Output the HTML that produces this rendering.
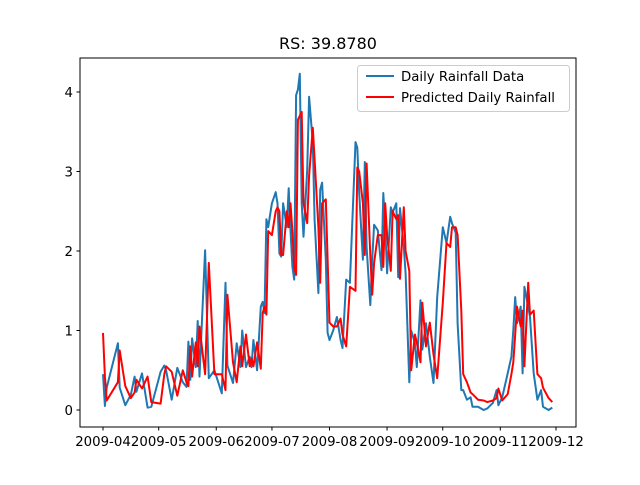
<!DOCTYPE html>
<html><head><meta charset="utf-8"><style>
body{margin:0;background:#fff}
svg text{font-family:"DejaVu Sans","Liberation Sans",sans-serif}
</style></head><body>
<svg id="chart" width="640" height="480" xmlns="http://www.w3.org/2000/svg">
<rect width="640" height="480" fill="#fff"/>
<text x="328" y="49" text-anchor="middle" font-size="16">RS: 39.8780</text>
<g id="plot"></g>
<rect x="80" y="58" width="496" height="369" fill="none" stroke="#000" stroke-width="1"/>
<g>
<rect x="357.5" y="65.5" width="212" height="46" rx="3" fill="#fff" fill-opacity="0.8" stroke="#ccc"/>
<line x1="366" y1="76" x2="394" y2="76" stroke="#1f77b4" stroke-width="2"/>
<text x="401" y="81" font-size="13.3">Daily Rainfall Data</text>
<line x1="366" y1="97" x2="394" y2="97" stroke="red" stroke-width="2"/>
<text x="401" y="102" font-size="13.3">Predicted Daily Rainfall</text>
</g>
</svg>
<script>
const days=[0,1,2,8,9,12,15,17,18,21,24,26,31,33,34,37,40,43,45,46,47,48,50,51,52,55,57,60,64,66,67,70,72,74,75,77,79,80,81,83,85,86,87,88,89,91,93,94,95,96,97,99,100,101,102,103,104,105,106,107,108,110,111,113,114,116,117,118,120,121,122,124,126,128,129,131,133,136,137,138,140,141,142,144,145,146,148,150,151,152,153,155,156,158,159,160,162,163,165,166,168,169,171,172,174,176,178,180,183,185,187,188,190,191,193,194,196,198,199,202,205,207,210,212,213,215,218,220,221,222,223,225,226,227,229,230,232,234,236,237,240,242];
const actual=[0.45,0.05,0.28,0.84,0.28,0.06,0.19,0.42,0.23,0.46,0.03,0.04,0.48,0.56,0.5,0.13,0.53,0.35,0.29,0.86,0.38,0.9,0.54,1.12,0.42,2.01,0.4,0.5,0.21,1.6,0.56,0.34,0.84,0.54,1.0,0.54,0.67,0.54,0.88,0.5,1.3,1.36,1.22,2.4,2.3,2.6,2.74,2.6,1.97,1.93,2.6,2.3,2.79,2.26,1.8,1.64,3.96,4.03,4.23,2.6,2.18,3.02,3.94,3.36,2.39,1.47,2.77,2.86,1.89,0.97,0.88,1.0,1.17,0.88,0.78,1.64,1.6,3.37,3.3,2.73,1.89,3.12,2.05,1.32,1.89,2.33,2.26,1.76,2.73,2.3,1.72,2.55,2.48,2.6,1.67,2.54,2.05,1.72,0.35,1.0,0.84,0.54,1.38,0.76,1.09,0.67,0.34,1.42,2.3,2.1,2.43,2.35,2.23,1.09,0.25,0.25,0.13,0.16,0.04,0.04,0.0,0.02,0.09,0.25,0.06,0.16,0.46,0.67,1.0,1.42,1.09,1.3,0.46,1.55,1.3,1.17,0.46,0.13,0.25,0.04,0.0,0.03];
const predicted=[0.97,0.42,0.12,0.35,0.75,0.3,0.15,0.22,0.38,0.27,0.42,0.1,0.08,0.45,0.55,0.48,0.18,0.5,0.35,0.3,0.8,0.42,0.85,0.55,1.05,0.45,1.85,0.45,0.45,0.25,1.45,0.6,0.35,0.8,0.55,0.95,0.55,0.65,0.55,0.85,0.52,1.22,1.3,1.2,2.25,2.2,2.5,2.55,2.5,1.95,1.95,2.5,2.3,2.6,2.25,1.8,1.7,3.65,3.7,3.75,2.6,2.35,2.95,3.55,3.15,2.3,1.6,2.6,2.65,1.9,1.1,1.05,1.05,1.15,0.95,0.8,1.55,1.5,3.05,3.0,2.6,1.95,3.1,1.95,1.45,1.85,2.2,2.2,1.8,2.6,2.2,1.75,2.5,2.4,2.45,1.65,2.55,2.0,1.75,0.5,0.95,0.85,0.6,1.35,0.8,1.1,0.7,0.4,1.35,2.1,2.05,2.3,2.3,2.2,1.25,0.45,0.35,0.22,0.2,0.13,0.12,0.1,0.12,0.15,0.27,0.12,0.2,0.45,0.6,0.95,1.3,1.05,1.25,0.55,1.6,1.2,1.25,0.45,0.4,0.28,0.15,0.1];
const xTickDays=[0,30,61,91,122,153,183,214,244];
const xTickLabels=["2009-04","2009-05","2009-06","2009-07","2009-08","2009-09","2009-10","2009-11","2009-12"];
const yTicks=[0,1,2,3,4];

const NS="http://www.w3.org/2000/svg";
const svg=document.getElementById('chart');
const plot=document.getElementById('plot');
const xs=d=>103+d*(453/244);
const ys=v=>410-v*79.5;
function mk(tag,attrs,parent){const e=document.createElementNS(NS,tag);for(const k in attrs)e.setAttribute(k,attrs[k]);(parent||svg).appendChild(e);return e;}

xTickDays.forEach((d,i)=>{
  const x=xs(d);
  const t=mk('line',{x1:x,y1:427,x2:x,y2:430.5,stroke:'#000'});
  
  
  const l=mk('text',{x:x,y:446,'text-anchor':'middle','font-size':'13.3'});
  l.textContent=xTickLabels[i];
  
  
});
yTicks.forEach(v=>{
  const y=ys(v);
  const t=mk('line',{x1:76.5,y1:y,x2:80,y2:y,stroke:'#000'});
  
  
  const l=mk('text',{x:73,y:y+5,'text-anchor':'end','font-size':'13.3'});
  l.textContent=String(v);
  
  
});
function path(vals,color,name){
  const n=Math.min(vals.length,days.length);
  let d='';
  for(let i=0;i<n;i++)d+=(i?'L':'M')+xs(days[i]).toFixed(1)+' '+ys(vals[i]).toFixed(1);
  const p=mk('path',{d:d,fill:'none',stroke:color,'stroke-width':2,'stroke-linejoin':'round'},plot);
  
  
}
path(actual,'#1f77b4','actual-rainfall-line');
path(predicted,'red','predicted-rainfall-line');
</script>
</body></html>
